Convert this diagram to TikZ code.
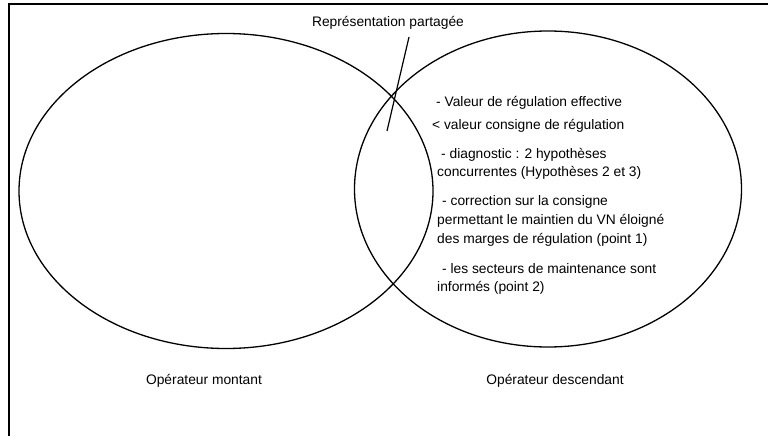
\documentclass[tikz,border=0pt]{standalone}
\usepackage{fontspec}
\setmainfont{Liberation Sans}
\usetikzlibrary{shapes.geometric}
\begin{document}
\begin{tikzpicture}[x=1pt,y=-1pt,
  ring/.style={draw,ellipse,line width=1.3pt,inner sep=0pt},
  txt/.style={anchor=west,inner sep=0pt,font=\fontsize{13.8}{16}\selectfont},
  lbl/.style={inner sep=0pt,font=\fontsize{13.8}{16}\selectfont},
  frame/.style={line width=1.2pt}]
\useasboundingbox (0,0) rectangle (768,436);
\draw[frame] (9,436) -- (9,4) -- (768,4);
\node[ring,minimum width=414pt,minimum height=315pt] (L) at (226,191) {};
\node[ring,minimum width=387pt,minimum height=316pt] (R) at (548,189) {};
\node[lbl] (rep) at (388,23) {Représentation partagée};
\coordinate (ptop) at (409,37);
\coordinate (pbot) at (387,131);
\draw[line width=1.2pt] (ptop) -- (pbot);
\node[txt] (t1) at (436,103) {- Valeur de régulation effective};
\node[txt] (t2) at (432,126) {< valeur consigne de régulation};
\node[txt] (t3) at (441,155) {- diagnostic : 2 hypothèses};
\node[txt] (t4) at (437,173) {concurrentes (Hypothèses 2 et 3)};
\node[txt] (t5) at (442,202) {- correction sur la consigne};
\node[txt] (t6) at (437,221) {permettant le maintien du VN éloigné};
\node[txt] (t7) at (437,240) {des marges de régulation (point 1)};
\node[txt] (t8) at (442,269) {- les secteurs de maintenance sont};
\node[txt] (t9) at (437,288) {informés (point 2)};
\node[lbl] (om) at (204,381) {Opérateur montant};
\node[lbl] (od) at (555,381) {Opérateur descendant};
\end{tikzpicture}
\end{document}
